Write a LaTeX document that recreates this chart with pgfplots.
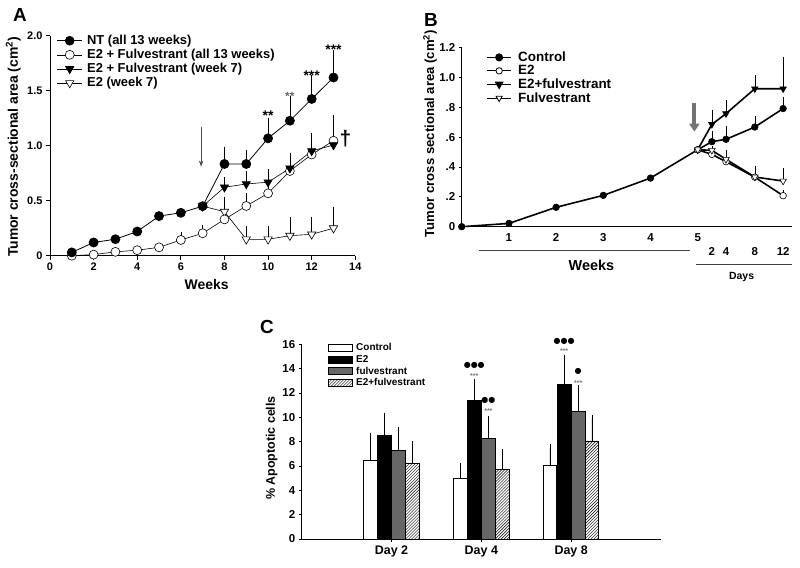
\documentclass[border=0pt]{standalone}
\usepackage{pgfplots}
\pgfplotsset{compat=1.18}
\usepackage{fontspec}
\setmainfont{Liberation Sans}
\newfontfamily\djv{DejaVu Sans}
\usetikzlibrary{patterns,arrows.meta}
\pgfplotsset{/pgf/number format/assume math mode=true}
\begin{document}
\begin{tikzpicture}
\useasboundingbox (0,0) rectangle (800bp,568bp);
% ---------------- Panel A ----------------
\node[font=\fontsize{19}{19}\selectfont\bfseries] at (20bp,553bp) {A};
\begin{axis}[
 at={(50bp,312.3bp)}, anchor=south west,
 scale only axis, width=305.3bp, height=220bp,
 xmin=0, xmax=14, ymin=0, ymax=2,
 axis x line*=bottom, axis y line*=left,
 axis line style={-, line width=0.8pt},
 xtick={0,2,...,14}, ytick={0,0.5,1,1.5,2}, yticklabels={0,0.5,1.0,1.5,2.0},
 tick align=outside, major tick length=4bp, tick style={line width=0.8pt, black},
 ticklabel style={font=\fontsize{11}{13}\selectfont\bfseries},
 xlabel={Weeks},
 ylabel={Tumor cross-sectional area (cm\textsuperscript{2})},
 xlabel style={font=\fontsize{14}{16}\selectfont\bfseries, at={(axis description cs:0.513,-0.133)}, anchor=center},
 ylabel style={font=\fontsize{14}{16}\selectfont\bfseries, at={(axis description cs:-0.12,0.495)}, anchor=center},
 clip=false,
 legend cell align=left,
 legend style={at={(axis description cs:0.022,1.01)}, anchor=north west, draw=none, fill=none,
   font=\fontsize{13}{15}\selectfont\bfseries, inner sep=0pt, nodes={inner sep=1.6bp},
   /tikz/every odd column/.append style={column sep=3bp}},
 legend image code/.code={\draw[mark repeat=2,mark phase=2,#1] plot coordinates {(0bp,0bp) (12.5bp,0bp) (25bp,0bp)};},
 error bars/y dir=plus, error bars/y explicit,
 error bars/error bar style={line width=0.6pt, black},
 error bars/error mark options={line width=0.6pt, mark size=3.5bp, black},
]
\addlegendimage{black, line width=0.6pt, mark=*, mark size=4.5bp}
\addlegendentry{NT (all 13 weeks)}
\addlegendimage{black, line width=0.6pt, mark=*, mark size=4.5bp, mark options={fill=white}}
\addlegendentry{E2 + Fulvestrant (all 13 weeks)}
\addlegendimage{black, line width=0.6pt, mark=triangle*, mark size=4.8bp, mark options={rotate=180}}
\addlegendentry{E2 + Fulvestrant (week 7)}
\addlegendimage{black, line width=0.6pt, mark=triangle*, mark size=4.8bp, mark options={rotate=180, fill=white}}
\addlegendentry{E2 (week 7)}
% E2 (week 7)
\addplot[forget plot, black, line width=0.6pt, mark=triangle*, mark size=4.8bp, mark options={rotate=180, fill=white}]
 coordinates {(7,0.45) +- (0,0) (8,0.40) +- (0,0.106) (9,0.149) +- (0,0.085) (10,0.149) +- (0,0.085)
  (11,0.182) +- (0,0.136) (12,0.194) +- (0,0.13) (13,0.25) +- (0,0.165)};
% E2 + Fulvestrant (all 13 weeks)
\addplot[forget plot, black, line width=0.6pt, mark=*, mark size=4.5bp, mark options={fill=white}]
 coordinates {(1,0.0) +- (0,0) (2,0.01) +- (0,0) (3,0.035) +- (0,0) (4,0.05) +- (0,0) (5,0.076) +- (0,0)
  (6,0.143) +- (0,0.037) (7,0.204) +- (0,0.046) (8,0.33) +- (0,0.06) (9,0.452) +- (0,0.084)
  (10,0.567) +- (0,0.04) (11,0.77) +- (0,0.05) (12,0.92) +- (0,0.09) (13,1.045) +- (0,0.198)};
% E2 + Fulvestrant (week 7)
\addplot[forget plot, black, line width=0.6pt, mark=triangle*, mark size=4.8bp, mark options={rotate=180}]
 coordinates {(7,0.45) +- (0,0) (8,0.622) +- (0,0.06) (9,0.652) +- (0,0.09) (10,0.668) +- (0,0.087)
  (11,0.795) +- (0,0.111) (12,0.952) +- (0,0.128) (13,1.006) +- (0,0.121)};
% NT
\addplot[forget plot, black, line width=0.8pt, mark=*, mark size=4.5bp]
 coordinates {(1,0.03) +- (0,0) (2,0.12) +- (0,0) (3,0.15) +- (0,0) (4,0.22) +- (0,0) (5,0.36) +- (0,0)
  (6,0.39) +- (0,0) (7,0.45) +- (0,0) (8,0.834) +- (0,0.126) (9,0.834) +- (0,0.096)
  (10,1.067) +- (0,0.151) (11,1.227) +- (0,0.193) (12,1.425) +- (0,0.19) (13,1.62) +- (0,0.22)};
\draw[-{Stealth[length=6bp,width=4.5bp]}, line width=0.7pt, black!70] (axis cs:6.93,1.17) -- (axis cs:6.93,0.81);
\node[font=\fontsize{14}{14}\selectfont\bfseries] at (axis cs:10,1.27) {**};
\node[font=\fontsize{12}{12}\selectfont\bfseries, black!60] at (axis cs:11,1.45) {**};
\node[font=\fontsize{14}{14}\selectfont\bfseries] at (axis cs:12,1.64) {***};
\node[font=\fontsize{14}{14}\selectfont\bfseries] at (axis cs:13,1.87) {***};
\node[font=\fontsize{21}{21}\selectfont\bfseries] at (axis cs:13.55,1.06) {†};
\end{axis}
% ---------------- Panel B ----------------
\node[font=\fontsize{19}{19}\selectfont\bfseries] at (431bp,548bp) {B};
\begin{axis}[
 at={(461.7bp,341.3bp)}, anchor=south west,
 scale only axis, width=330.4bp, height=179bp,
 xmin=0, xmax=7, ymin=0, ymax=1.2,
 axis x line*=bottom, axis y line*=left,
 axis line style={-, line width=0.8pt},
 ytick={0,0.2,0.4,0.6,0.8,1.0,1.2}, yticklabels={0,.2,.4,.6,.8,1.0,1.2},
 xtick={1,2,3,4,5}, xticklabels={1,2,3,4,5},
 extra x ticks={5.30,5.60,6.21,6.81}, extra x tick labels={2,4,8,12},
 extra x tick style={xticklabel style={yshift=-14bp}},
 tick align=outside, major tick length=3bp, ytick style={line width=0.8pt, black}, xtick style={draw=none},
 ticklabel style={font=\fontsize{11.5}{13}\selectfont\bfseries},
 ylabel={Tumor cross sectional area (cm\textsuperscript{2})},
 ylabel style={font=\fontsize{13.2}{15}\selectfont\bfseries, at={(axis description cs:-0.096,0.52)}, anchor=center},
 clip=false,
 legend cell align=left,
 legend style={at={(axis description cs:0.074,0.985)}, anchor=north west, draw=none, fill=none,
   font=\fontsize{13.5}{15}\selectfont\bfseries, inner sep=0pt, nodes={inner sep=1.2bp},
   /tikz/every odd column/.append style={column sep=5bp}},
 legend image code/.code={\draw[mark repeat=2,mark phase=2,#1] plot coordinates {(0bp,0bp) (12bp,0bp) (24bp,0bp)};},
 error bars/y dir=plus, error bars/y explicit,
 error bars/error bar style={line width=0.6pt, black},
 error bars/error mark options={line width=0.6pt, mark size=3bp, black},
]
\addlegendimage{black, line width=1.6pt, mark=*, mark size=3.2bp}
\addlegendentry{Control}
\addlegendimage{black, line width=0.8pt, mark=*, mark size=3.2bp, mark options={fill=white}}
\addlegendentry{E2}
\addlegendimage{black, line width=1.6pt, mark=triangle*, mark size=3.6bp, mark options={rotate=180}}
\addlegendentry{E2+fulvestrant}
\addlegendimage{black, line width=0.8pt, mark=triangle*, mark size=3.6bp, mark options={rotate=180, fill=white}}
\addlegendentry{Fulvestrant}
% Control (weeks 0-5 shared)
\addplot[forget plot, black, line width=1.6pt, mark=*, mark size=3.3bp, mark options={line width=0.6pt}]
 coordinates {(0,0) +- (0,0) (1,0.022) +- (0,0) (2,0.13) +- (0,0) (3,0.21) +- (0,0) (4,0.326) +- (0,0) (5,0.516) +- (0,0)
  (5.30,0.57) +- (0,0.049) (5.60,0.586) +- (0,0.067) (6.21,0.668) +- (0,0.056) (6.81,0.792) +- (0,0.06)};
% E2+fulvestrant
\addplot[forget plot, black, line width=1.6pt, mark=triangle*, mark size=3.8bp, mark options={rotate=180, line width=0.6pt}]
 coordinates {(5,0.516) +- (0,0) (5.30,0.686) +- (0,0.078) (5.60,0.758) +- (0,0.07) (6.21,0.925) +- (0,0.07) (6.81,0.925) +- (0,0.195)};
% E2
\addplot[forget plot, black, line width=1.6pt, mark=*, mark size=3.3bp, mark options={fill=white, line width=0.6pt}]
 coordinates {(5,0.516) +- (0,0) (5.30,0.485) +- (0,0.01) (5.60,0.436) +- (0,0.035) (6.21,0.332) +- (0,0.03) (6.81,0.208) +- (0,0.02)};
% Fulvestrant
\addplot[forget plot, black, line width=1.6pt, mark=triangle*, mark size=3.8bp, mark options={rotate=180, fill=white, line width=0.6pt}]
 coordinates {(5,0.516) +- (0,0) (5.30,0.512) +- (0,0.01) (5.60,0.452) +- (0,0.04) (6.21,0.333) +- (0,0.053) (6.81,0.306) +- (0,0.067)};
\draw[-{Triangle[width=10bp,length=8bp]}, line width=4bp, black!55] (axis cs:4.93,0.83) -- (axis cs:4.93,0.637);
\draw[line width=0.8pt, black!75] (axis cs:0.37,-0.156) -- (axis cs:4.84,-0.156);
\draw[line width=0.8pt, black!75] (axis cs:4.96,-0.254) -- (axis cs:6.99,-0.254);
\node[font=\fontsize{14.5}{16}\selectfont\bfseries] at (axis cs:2.75,-0.257) {Weeks};
\node[font=\fontsize{10.5}{12}\selectfont\bfseries] at (axis cs:5.93,-0.335) {Days};
\end{axis}
% ---------------- Panel C ----------------
\node[font=\fontsize{19}{19}\selectfont\bfseries] at (267bp,241bp) {C};
\begin{axis}[
 at={(301.7bp,29bp)}, anchor=south west,
 scale only axis, width=359.3bp, height=194.7bp,
 xmin=0, xmax=4, ymin=0, ymax=16,
 axis x line*=bottom, axis y line*=left,
 axis line style={-, line width=0.8pt},
 ytick={0,2,...,16}, xtick={1,2,3}, xticklabels={Day 2,Day 4,Day 8},
 tick align=outside, major tick length=3bp, tick style={line width=0.7pt, black},
 ticklabel style={font=\fontsize{11.5}{13}\selectfont\bfseries},
 xticklabel style={font=\fontsize{12.5}{14}\selectfont\bfseries},
 ylabel={\% Apoptotic cells},
 ylabel style={font=\fontsize{12.5}{14}\selectfont\bfseries, at={(axis description cs:-0.0835,0.467)}, anchor=center},
 clip=false,
 legend cell align=left,
 legend style={at={(axis description cs:0.073,1.012)}, anchor=north west, draw=none, fill=none,
   font=\fontsize{10}{12}\selectfont\bfseries, inner sep=0pt, nodes={inner sep=1.5bp},
   /tikz/every odd column/.append style={column sep=2bp}},
 legend image code/.code={\draw[#1] (0bp,-3.6bp) rectangle (24bp,3.6bp);},
 error bars/y dir=plus, error bars/y explicit,
 error bars/error bar style={line width=0.6pt, black},
 error bars/error mark options={line width=0.6pt, mark size=3.5bp, black},
]
\addlegendimage{fill=white, draw=black, line width=0.6pt}
\addlegendentry{Control}
\addlegendimage{fill=black, draw=black, line width=0.6pt}
\addlegendentry{E2}
\addlegendimage{fill=black!60, draw=black, line width=0.6pt}
\addlegendentry{fulvestrant}
\addlegendimage{pattern=north east lines, draw=black, line width=0.6pt}
\addlegendentry{E2+fulvestrant}
\addplot[forget plot, ybar, bar width=0.15, bar shift=0pt, fill=white, draw=black, line width=0.6pt]
 coordinates {(0.763,6.45) +- (0,2.0) (1.763,5.0) +- (0,0.97) (2.763,6.08) +- (0,1.4)};
\addplot[forget plot, ybar, bar width=0.15, bar shift=0pt, fill=black, draw=black, line width=0.6pt]
 coordinates {(0.921,8.5) +- (0,1.6) (1.921,11.4) +- (0,1.5) (2.921,12.7) +- (0,2.15)};
\addplot[forget plot, ybar, bar width=0.15, bar shift=0pt, fill=black!60, draw=black, line width=0.6pt]
 coordinates {(1.078,7.28) +- (0,1.6) (2.078,8.27) +- (0,1.55) (3.078,10.5) +- (0,1.83)};
\addplot[forget plot, ybar, bar width=0.15, bar shift=0pt, pattern=north east lines, draw=black, line width=0.6pt]
 coordinates {(1.231,6.22) +- (0,1.56) (2.231,5.72) +- (0,1.41) (3.231,8.06) +- (0,1.84)};
\node[font=\djv\fontsize{8}{8}\selectfont] at (axis cs:1.921,14.3) {●●●};
\node[font=\fontsize{7}{7}\selectfont\bfseries, black!55] at (axis cs:1.921,13.35) {***};
\node[font=\djv\fontsize{8}{8}\selectfont] at (axis cs:2.078,11.42) {●●};
\node[font=\fontsize{7}{7}\selectfont\bfseries, black!55] at (axis cs:2.078,10.5) {***};
\node[font=\djv\fontsize{8}{8}\selectfont] at (axis cs:2.921,16.27) {●●●};
\node[font=\fontsize{7}{7}\selectfont\bfseries, black!55] at (axis cs:2.921,15.45) {***};
\node[font=\djv\fontsize{8}{8}\selectfont] at (axis cs:3.078,13.75) {●};
\node[font=\fontsize{7}{7}\selectfont\bfseries, black!55] at (axis cs:3.078,12.8) {***};
\end{axis}
\end{tikzpicture}
\end{document}
